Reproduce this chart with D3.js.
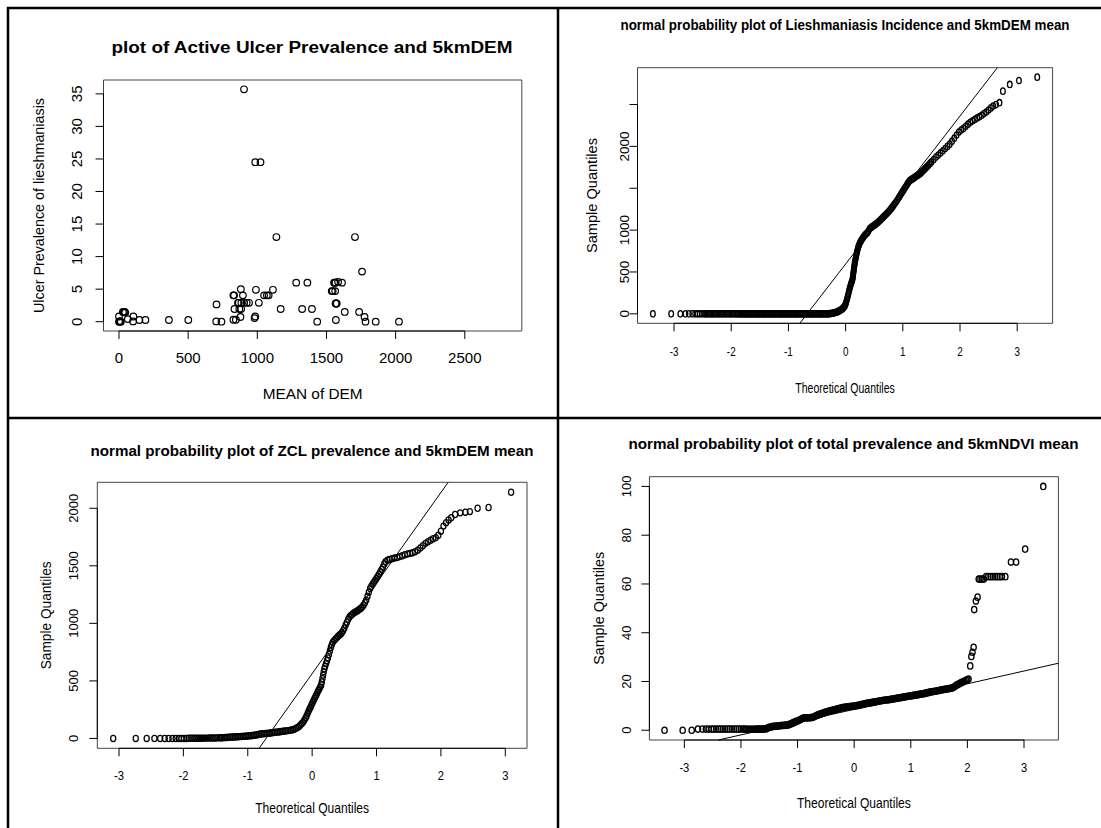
<!DOCTYPE html>
<html>
<head>
<meta charset="utf-8">
<script src="https://cdn.jsdelivr.net/npm/d3@7"></script>
<style>
body{margin:0;background:#fff}
svg text{font-family:"Liberation Sans",Arial,Helvetica,sans-serif;fill:#000}
</style>
</head>
<body>
<svg id="chart" width="1101" height="828"></svg>
<script>
// ---- data ----

// top-left: mean DEM vs active ulcer prevalence
var ulcerDEM = [[0,0],[5,0],[13,0],[8,0.1],[0,0.8],[28,1.5],[35,1.5],[41,1.5],[45,1.4],[64,0.4],[102,0.05],[104,0.8],
	[148,0.26],[191,0.26],[361,0.26],[501,0.26],[703,0.05],[705,2.66],[741,0],[827,0.3],[845,0.3],[827,4.05],[832,4.05],
	[835,1.95],[860,2.9],[866,2.9],[870,1.95],[878,0.72],[881,5.0],[883,1.95],[885,2.9],[896,4.05],[904,35.7],[905,2.9],
	[923,2.9],[940,2.9],[985,24.5],[985,0.8],[980,0.55],[990,4.9],[1011,2.9],[1023,24.5],[1049,4.05],[1069,4.05],
	[1082,4.05],[1113,4.9],[1138,13.0],[1169,1.95],[1281,6.0],[1324,1.95],[1362,6.0],[1395,1.95],[1433,0],[1538,4.7],
	[1545,4.7],[1563,4.7],[1555,6.0],[1560,6.0],[1565,6.0],[1584,6.1],[1612,6.0],[1566,2.8],[1570,2.8],[1574,2.8],
	[1568,0.26],[1632,1.5],[1706,13.0],[1736,1.5],[1757,7.7],[1775,0.72],[1782,0],[1856,0],[2024,0]];
var ulcerXLim = [0, 2800];
var ulcerYLim = [0, 35.7];
var ulcerXTicks = [0, 500, 1000, 1500, 2000, 2500];
var ulcerYTicks = [0, 5, 10, 15, 20, 25, 30, 35];

// top-right: QQ of leishmaniasis incidence
// theoretical quantiles whose sample value is 0
var leishZeroQ = [-3.37,-3.05,-2.89,-2.80,-2.74,-2.68,-2.63,-2.59,-2.55,-2.51,-2.47,-2.44,-2.41,-2.38,-2.35,-2.32,
	-2.29,-2.26,-2.23,-2.20,-2.17,-2.14,-2.11,-2.08,-2.05,-2.02,-1.99,-1.96,-1.93,
	-1.90,-1.88,-1.86,-1.84,-1.82,-1.80,-1.78,-1.76,-1.74,-1.72,-1.70,-1.68,-1.66,-1.64,-1.62,-1.60,-1.58,-1.56,
	-1.54,-1.52,-1.50,-1.48,-1.46,-1.44,-1.42,-1.40,-1.38,-1.36,-1.34,-1.32,-1.30,-1.28,-1.26,-1.24,-1.22,-1.20,
	-1.18,-1.16,-1.14,-1.12,-1.10,-1.08,-1.06,-1.04,-1.02,-1.00,-0.98,-0.96,-0.94,-0.92,-0.90,-0.88,-0.86,-0.84,
	-0.82,-0.80,-0.78,-0.76,-0.74,-0.72,-0.70,-0.68,-0.66,-0.64,-0.62,-0.60,-0.58,-0.56,-0.54,-0.52,-0.50,-0.48,
	-0.46,-0.44,-0.42,-0.40,-0.38,-0.36,-0.34,-0.32,-0.30];
// (theoretical, sample) above zero
var leishQQ = [[-0.28,2],[-0.26,4],[-0.24,6],[-0.22,9],[-0.20,12],[-0.18,16],[-0.16,20],[-0.14,26],[-0.12,32],
	[-0.10,40],[-0.08,48],[-0.065,56],[-0.05,65],[-0.035,76],[-0.02,88],[-0.01,100],[0.00,118],[0.008,135],
	[0.016,155],[0.024,175],[0.032,195],[0.04,215],[0.048,240],[0.056,262],[0.064,285],[0.072,305],[0.08,325],
	[0.088,345],[0.096,362],[0.104,378],[0.112,392],[0.12,410],[0.124,430],[0.128,450],[0.132,470],[0.136,490],
	[0.14,510],[0.144,530],[0.148,550],[0.152,570],[0.156,590],[0.161,610],[0.166,630],[0.172,650],[0.178,670],
	[0.184,690],[0.19,710],[0.196,730],[0.203,750],[0.21,770],[0.218,790],[0.226,808],[0.236,826],[0.248,845],
	[0.26,862],[0.275,880],[0.29,897],[0.305,912],[0.32,926],[0.34,942],[0.36,956],[0.38,970],[0.40,990],
	[0.42,1018],[0.44,1028],[0.46,1038],[0.48,1048],[0.50,1058],[0.52,1068],[0.54,1079],[0.56,1090],[0.58,1102],
	[0.60,1116],[0.62,1130],[0.64,1143],[0.66,1157],[0.68,1171],[0.70,1185],[0.72,1198],[0.74,1213],[0.76,1228],
	[0.78,1244],[0.80,1262],[0.82,1280],[0.84,1298],[0.86,1317],[0.88,1336],[0.90,1356],[0.92,1377],[0.94,1400],
	[0.96,1422],[0.98,1444],[1.00,1465],[1.02,1486],[1.04,1508],[1.06,1530],[1.08,1552],[1.10,1573],[1.12,1591],
	[1.14,1600],[1.16,1608],[1.18,1617],[1.20,1627],[1.22,1637],[1.24,1647],[1.26,1655],[1.28,1664],[1.30,1674],
	[1.32,1686],[1.34,1700],[1.36,1714],[1.38,1728],[1.40,1742],[1.42,1756],[1.44,1770],[1.46,1786],[1.48,1800],
	[1.50,1815],[1.54,1843],[1.58,1872],[1.62,1897],[1.66,1922],[1.70,1948],[1.74,1975],[1.78,2000],[1.82,2027],
	[1.86,2062],[1.90,2098],[1.94,2135],[1.98,2172],[2.02,2195],[2.06,2215],[2.10,2240],[2.14,2265],[2.18,2288],
	[2.22,2305],[2.26,2322],[2.30,2340],[2.34,2355],[2.38,2372],[2.42,2392],[2.46,2411],[2.50,2435],[2.54,2460],
	[2.58,2482],[2.63,2500],[2.69,2522],[2.75,2660],[2.87,2740],[3.03,2787],[3.35,2827]];
var leishLine = {intercept: 595, slope: 884};
var leishXTicks = [-3, -2, -1, 0, 1, 2, 3];
var leishYTicks = [0, 500, 1000, 1500, 2000, 2500];
var leishYLabels = ["0", "500", "1000", "", "2000", ""];

// bottom-left: QQ of ZCL prevalence
var zclZeroQ = [-3.09,-2.74,-2.57,-2.45,-2.36,-2.29,-2.23,-2.17,-2.12,-2.07,-2.03,-1.99,-1.95];
var zclQQ = [[-1.92,1],[-1.89,1],[-1.86,1],[-1.83,1.5],[-1.80,2],[-1.77,2],[-1.74,2],[-1.71,2.5],[-1.68,3],
	[-1.65,3],[-1.62,3],[-1.59,3.5],[-1.56,4],[-1.53,4],[-1.50,4.5],[-1.47,5],[-1.44,5],[-1.42,5.5],
	[-1.400,6],[-1.375,7],[-1.350,8],[-1.325,9],[-1.300,10],[-1.275,11],[-1.250,12],[-1.225,12],[-1.200,13],
	[-1.175,14],[-1.150,15],[-1.125,16],[-1.100,17],[-1.075,18],[-1.050,19],[-1.025,20],[-1.000,21],[-0.975,23],
	[-0.950,24],[-0.925,26],[-0.900,28],[-0.875,30],[-0.850,33],[-0.825,36],[-0.800,38],[-0.775,40],[-0.750,41],
	[-0.725,43],[-0.700,44],[-0.675,46],[-0.650,48],[-0.625,49],[-0.600,51],[-0.575,53],[-0.550,55],[-0.525,56],
	[-0.500,58],[-0.475,60],[-0.450,62],[-0.425,64],[-0.400,66],[-0.375,68],[-0.350,70],[-0.325,73],[-0.300,76],
	[-0.275,80],[-0.250,88],[-0.225,96],[-0.200,106],[-0.18,118],[-0.16,130],[-0.14,142],[-0.12,160],[-0.10,180],
	[-0.085,198],[-0.07,218],[-0.055,238],[-0.04,255],[-0.025,272],[-0.01,290],[0.005,310],[0.02,328],[0.035,345],
	[0.05,362],[0.065,378],[0.08,398],[0.095,415],[0.11,430],[0.125,448],[0.14,465],[0.15,490],[0.16,520],
	[0.17,550],[0.18,580],[0.19,605],[0.20,625],[0.215,650],[0.23,675],[0.245,700],[0.26,730],[0.275,760],
	[0.29,790],[0.305,815],[0.32,835],[0.34,850],[0.36,862],[0.38,874],[0.40,885],[0.42,896],[0.44,906],
	[0.46,918],[0.48,935],[0.50,958],[0.52,985],[0.54,1010],[0.56,1035],[0.58,1055],[0.60,1068],[0.62,1078],
	[0.64,1088],[0.66,1095],[0.68,1102],[0.70,1108],[0.72,1116],[0.74,1124],[0.76,1132],[0.78,1145],[0.80,1160],
	[0.82,1180],[0.84,1202],[0.86,1235],[0.88,1270],[0.90,1302],[0.92,1322],[0.94,1340],[0.96,1358],[0.98,1375],
	[1.00,1392],[1.02,1410],[1.04,1428],[1.06,1448],[1.08,1468],[1.10,1490],[1.12,1515],[1.14,1535],[1.17,1548],
	[1.20,1555],[1.24,1562],[1.28,1567],[1.32,1573],[1.36,1580],[1.40,1588],[1.44,1596],[1.48,1602],[1.52,1608],
	[1.56,1614],[1.60,1622],[1.64,1635],[1.68,1655],[1.72,1675],[1.76,1695],[1.80,1710],[1.84,1722],[1.88,1735],
	[1.92,1745],[1.96,1765],[2.00,1800],[2.04,1845],[2.08,1875],[2.12,1898],[2.16,1918],[2.22,1945],[2.30,1960],
	[2.38,1965],[2.45,1971],[2.57,2000],[2.74,2006],[3.09,2140]];
var zclLine = {intercept: 563, slope: 787};
var zclXTicks = [-3, -2, -1, 0, 1, 2, 3];
var zclYTicks = [0, 500, 1000, 1500, 2000];

// bottom-right: QQ of total prevalence
var totalZeroQ = [-3.35,-3.03,-2.87];
var totalQQ = [[-2.76,0.5],[-2.68,0.5],[-2.62,0.5],[-2.57,0.5],[-2.52,0.5],[-2.48,0.5],[-2.44,0.5],[-2.40,0.5],
	[-2.36,0.5],[-2.32,0.5],[-2.28,0.5],[-2.24,0.5],[-2.20,0.5],[-2.16,0.5],[-2.12,0.5],[-2.08,0.5],[-2.04,0.5],
	[-2.00,0.5],[-1.96,0.5],[-1.93,0.5],
	[-1.900,0.4],[-1.875,0.4],[-1.850,0.4],[-1.825,0.4],[-1.800,0.4],[-1.775,0.4],[-1.750,0.4],[-1.725,0.5],
	[-1.700,0.5],[-1.675,0.5],[-1.650,0.5],[-1.625,0.5],[-1.600,0.5],[-1.575,0.6],[-1.550,0.6],[-1.525,1.0],
	[-1.500,1.2],[-1.475,1.3],[-1.450,1.5],[-1.425,1.6],[-1.400,1.6],[-1.375,1.7],[-1.350,1.7],[-1.325,1.8],
	[-1.300,1.9],[-1.275,1.9],[-1.250,2.0],[-1.225,2.0],[-1.200,2.1],[-1.175,2.2],[-1.150,2.3],[-1.125,2.6],
	[-1.100,2.8],[-1.075,3.1],[-1.050,3.3],[-1.025,3.6],[-1.000,3.8],[-0.975,4.1],[-0.950,4.4],[-0.925,4.7],
	[-0.900,5.0],[-0.875,5.1],[-0.850,5.1],[-0.825,5.1],[-0.800,5.1],[-0.775,5.2],[-0.750,5.2],[-0.725,5.4],
	[-0.700,5.6],[-0.675,5.9],[-0.650,6.2],[-0.625,6.4],[-0.600,6.6],[-0.575,6.8],[-0.550,7.0],[-0.525,7.2],
	[-0.500,7.4],[-0.475,7.6],[-0.450,7.8],[-0.425,8.0],[-0.400,8.1],[-0.375,8.3],[-0.350,8.4],[-0.325,8.6],
	[-0.300,8.7],[-0.275,8.9],[-0.250,9.0],[-0.225,9.2],[-0.200,9.3],[-0.175,9.4],[-0.150,9.5],[-0.125,9.5],
	[-0.100,9.6],[-0.075,9.7],[-0.050,9.8],[-0.025,9.8],[0.000,9.9],[0.025,10.0],[0.050,10.1],[0.075,10.2],
	[0.100,10.4],[0.125,10.5],[0.150,10.6],[0.175,10.7],[0.200,10.9],[0.225,11.0],[0.250,11.1],[0.275,11.2],
	[0.300,11.3],[0.325,11.4],[0.350,11.5],[0.375,11.6],[0.400,11.8],[0.425,11.9],[0.450,12.0],[0.475,12.1],
	[0.500,12.2],[0.525,12.3],[0.550,12.4],[0.575,12.4],[0.600,12.5],[0.625,12.6],[0.650,12.7],[0.675,12.8],
	[0.700,12.9],[0.725,13.0],[0.750,13.1],[0.775,13.2],[0.800,13.3],[0.825,13.4],[0.850,13.5],[0.875,13.6],
	[0.900,13.7],[0.925,13.8],[0.950,13.9],[0.975,14.0],[1.000,14.1],[1.025,14.2],[1.050,14.3],[1.075,14.4],
	[1.100,14.5],[1.125,14.6],[1.150,14.7],[1.175,14.8],[1.200,14.9],[1.225,15.0],[1.250,15.1],[1.275,15.3],
	[1.300,15.4],[1.325,15.5],[1.350,15.7],[1.375,15.8],[1.400,15.9],[1.425,16.0],[1.450,16.1],[1.475,16.2],
	[1.500,16.3],[1.525,16.5],[1.550,16.6],[1.575,16.7],[1.600,16.8],[1.625,16.9],[1.650,17.0],[1.675,17.1],
	[1.700,17.2],[1.725,17.3],[1.750,17.5],[1.775,17.9],[1.800,18.4],[1.825,18.7],[1.850,19.0],[1.875,19.3],
	[1.900,19.6],[1.925,19.9],[1.950,20.2],[1.975,20.5],[2.000,20.7],[2.020,21.0],
	[2.05,26.4],[2.07,30.3],[2.09,32.0],[2.11,34.0],[2.12,49.5],[2.15,53.0],[2.18,54.6],[2.20,62.0],[2.23,62.0],
	[2.26,62.0],[2.29,62.0],[2.33,63.0],[2.37,63.0],[2.41,63.0],[2.45,63.0],[2.49,63.0],[2.53,63.0],[2.57,63.0],
	[2.61,63.0],[2.67,63.0],[2.77,69],[2.86,69],[3.02,74.3],[3.34,100]];
var totalLine = {intercept: 8.58, slope: 5.24};
var totalXTicks = [-3, -2, -1, 0, 1, 2, 3];
var totalYTicks = [0, 20, 40, 60, 80, 100];

function withZeros(zeroQ, pts){
	return zeroQ.map(function(q){ return [q, 0]; }).concat(pts);
}

// ---- drawing ----
var svg = d3.select("#chart");

// R style axis limits: range padded by 4% each side
function rExtend(lim){
	var d = (lim[1] - lim[0]) * 0.04;
	return [lim[0] - d, lim[1] + d];
}

function drawPanel(p){
	var sx = p.sx;
	// panels 2-4 are horizontally squeezed in the source picture
	var g = svg.append("g").attr("transform", "translate(" + p.box.l + ",0) scale(" + sx + ",1)");
	var gr = svg.append("g");  // rotated texts, not squeezed
	var ux = function(X){ return (X - p.box.l) / sx; };

	var xlim = p.xlim || d3.extent(p.points, function(d){ return d[0]; });
	var ylim = p.ylim || d3.extent(p.points, function(d){ return d[1]; });
	var x = d3.scaleLinear().domain(rExtend(xlim)).range([0, ux(p.box.r)]);
	var y = d3.scaleLinear().domain(rExtend(ylim)).range([p.box.b, p.box.t]);

	g.append("rect")
		.attr("x", 0).attr("y", p.box.t)
		.attr("width", ux(p.box.r)).attr("height", p.box.b - p.box.t)
		.attr("fill", "none").attr("stroke", "#444").attr("stroke-width", 1)
		.attr("vector-effect", "non-scaling-stroke");

	// x axis
	g.append("line")
		.attr("x1", x(p.xTicks[0])).attr("x2", x(p.xTicks[p.xTicks.length - 1]))
		.attr("y1", p.box.b).attr("y2", p.box.b)
		.attr("stroke", "#000").attr("vector-effect", "non-scaling-stroke");
	g.selectAll(".xt").data(p.xTicks).enter().append("line")
		.attr("x1", function(d){ return x(d); }).attr("x2", function(d){ return x(d); })
		.attr("y1", p.box.b).attr("y2", p.box.b + 8)
		.attr("stroke", "#000").attr("vector-effect", "non-scaling-stroke");
	g.selectAll(".xl").data(p.xTicks).enter().append("text")
		.attr("x", function(d){ return x(d); })
		.attr("y", p.box.b + p.xLabDy)
		.attr("dy", "0.35em")
		.attr("text-anchor", "middle")
		.style("font-size", p.tickSize + "px")
		.text(function(d){ return d; });

	// y axis
	g.append("line")
		.attr("x1", 0).attr("x2", 0)
		.attr("y1", y(p.yTicks[0])).attr("y2", y(p.yTicks[p.yTicks.length - 1]))
		.attr("stroke", "#000").attr("vector-effect", "non-scaling-stroke");
	g.selectAll(".yt").data(p.yTicks).enter().append("line")
		.attr("x1", 0).attr("x2", -8 / sx)
		.attr("y1", function(d){ return y(d); }).attr("y2", function(d){ return y(d); })
		.attr("stroke", "#000").attr("vector-effect", "non-scaling-stroke");
	var yLabels = p.yLabels || p.yTicks.map(String);
	gr.selectAll(".yl").data(p.yTicks).enter().append("text")
		.attr("transform", function(d){ return "translate(" + p.yLabX + "," + y(d) + ") rotate(-90)"; })
		.attr("dy", "0.35em")
		.attr("text-anchor", "middle")
		.style("font-size", p.yTickSize + "px")
		.text(function(d, i){ return yLabels[i]; });

	// titles
	g.append("text")
		.attr("x", ux(p.title.x)).attr("y", p.title.y).attr("dy", "0.35em")
		.attr("text-anchor", "middle")
		.attr("textLength", p.title.w / sx).attr("lengthAdjust", "spacingAndGlyphs")
		.style("font-size", p.title.size + "px").style("font-weight", "bold")
		.text(p.title.text);
	g.append("text")
		.attr("x", ux((p.box.l + p.box.r) / 2)).attr("y", p.xTitle.y).attr("dy", "0.35em")
		.attr("text-anchor", "middle")
		.attr("textLength", p.xTitle.w / sx).attr("lengthAdjust", "spacingAndGlyphs")
		.style("font-size", p.labSize + "px")
		.text(p.xTitle.text);
	gr.append("text")
		.attr("transform", "translate(" + p.yTitle.x + "," + (p.box.t + p.box.b) / 2 + ") rotate(-90)")
		.attr("dy", "0.35em")
		.attr("text-anchor", "middle")
		.attr("textLength", p.yTitle.w).attr("lengthAdjust", "spacingAndGlyphs")
		.style("font-size", p.labSize + "px")
		.text(p.yTitle.text);

	// points
	g.selectAll(".pt").data(p.points).enter().append("circle")
		.attr("cx", function(d){ return x(d[0]); })
		.attr("cy", function(d){ return y(d[1]); })
		.attr("r", p.r)
		.attr("fill", "none").attr("stroke", "#000").attr("stroke-width", p.pw || 1)
		.attr("vector-effect", "non-scaling-stroke");

	// qqline, clipped to the plot box
	if(p.line){
		var xd = x.domain(), yd = y.domain();
		var a = p.line.intercept, b = p.line.slope;
		var x0 = Math.max(xd[0], (yd[0] - a) / b);
		var x1 = Math.min(xd[1], (yd[1] - a) / b);
		g.append("line")
			.attr("x1", x(x0)).attr("y1", y(a + b * x0))
			.attr("x2", x(x1)).attr("y2", y(a + b * x1))
			.attr("stroke", "#000").attr("stroke-width", 1)
			.attr("vector-effect", "non-scaling-stroke");
	}
}

// table rules
svg.append("line").attr("x1", 8).attr("x2", 8).attr("y1", 7).attr("y2", 828).attr("stroke", "#000").attr("stroke-width", 2.5);
svg.append("line").attr("x1", 7).attr("x2", 1101).attr("y1", 8).attr("y2", 8).attr("stroke", "#000").attr("stroke-width", 2.5);
svg.append("line").attr("x1", 558).attr("x2", 558).attr("y1", 8).attr("y2", 828).attr("stroke", "#000").attr("stroke-width", 2.5);
svg.append("line").attr("x1", 8).attr("x2", 1101).attr("y1", 418).attr("y2", 418).attr("stroke", "#000").attr("stroke-width", 2.5);

drawPanel({
	box: {l: 103.5, r: 521.8, t: 80, b: 331}, sx: 1,
	points: ulcerDEM, xlim: ulcerXLim, ylim: ulcerYLim,
	xTicks: ulcerXTicks, yTicks: ulcerYTicks,
	xLabDy: 27, yLabX: 76.5, tickSize: 15, yTickSize: 15, labSize: 15, r: 3.3, pw: 1.2,
	title: {text: "plot of Active Ulcer Prevalence and 5kmDEM", x: 312, y: 47, w: 401, size: 16},
	xTitle: {text: "MEAN of DEM", y: 394, w: 100},
	yTitle: {text: "Ulcer Prevalence of lieshmaniasis", x: 38.6, w: 215}
});

drawPanel({
	box: {l: 637.5, r: 1052.6, t: 67.7, b: 323.3}, sx: 0.73,
	points: withZeros(leishZeroQ, leishQQ), line: leishLine,
	xTicks: leishXTicks, yTicks: leishYTicks, yLabels: leishYLabels,
	xLabDy: 28.4, yLabX: 624.5, tickSize: 13.5, yTickSize: 13.5, labSize: 14.5, r: 3.2, pw: 1.3,
	title: {text: "normal probability plot of Lieshmaniasis Incidence and 5kmDEM mean", x: 845, y: 25, w: 449, size: 14},
	xTitle: {text: "Theoretical Quantiles", y: 388, w: 99.4},
	yTitle: {text: "Sample Quantiles", x: 592, w: 115}
});

drawPanel({
	box: {l: 97.3, r: 527, t: 482.3, b: 748.3}, sx: 0.83,
	points: withZeros(zclZeroQ, zclQQ), line: zclLine,
	xTicks: zclXTicks, yTicks: zclYTicks,
	xLabDy: 27.4, yLabX: 73.8, tickSize: 13.5, yTickSize: 13, labSize: 14, r: 3.1, pw: 1.25,
	title: {text: "normal probability plot of ZCL prevalence and 5kmDEM mean", x: 312, y: 450.7, w: 443, size: 14},
	xTitle: {text: "Theoretical Quantiles", y: 808.3, w: 113.8},
	yTitle: {text: "Sample Quantiles", x: 45.7, w: 108}
});

drawPanel({
	box: {l: 649.4, r: 1058.4, t: 476.7, b: 740}, sx: 0.83,
	points: withZeros(totalZeroQ, totalQQ), line: totalLine,
	xTicks: totalXTicks, yTicks: totalYTicks,
	xLabDy: 27.3, yLabX: 626.6, tickSize: 13.5, yTickSize: 13, labSize: 14.5, r: 3.2, pw: 1.3,
	title: {text: "normal probability plot of total prevalence and 5kmNDVI mean", x: 853.5, y: 444, w: 450, size: 14},
	xTitle: {text: "Theoretical Quantiles", y: 803.3, w: 113.8},
	yTitle: {text: "Sample Quantiles", x: 599.2, w: 113}
});
</script>
</body>
</html>
